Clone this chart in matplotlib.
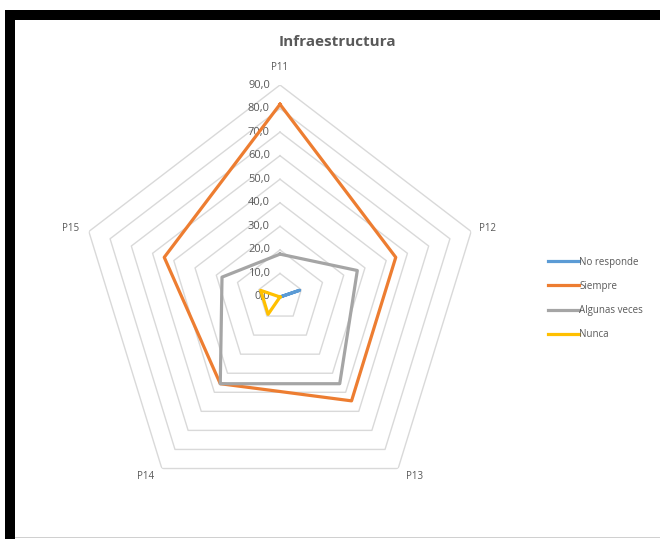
import numpy as np
import matplotlib
matplotlib.use("Agg")
import matplotlib.pyplot as plt
from matplotlib.patches import Rectangle

# datos (porcentajes por pregunta)
preguntas = ["P11", "P12", "P13", "P14", "P15"]
no_responde = [0.0, 9.1, 0.0, 0.0, 0.0]
siempre = [81.8, 54.5, 54.5, 45.5, 54.5]
algunas_veces = [18.2, 36.4, 45.5, 45.5, 27.3]
nunca = [0.0, 0.0, 0.0, 9.1, 9.1]
niveles = [0, 10, 20, 30, 40, 50, 60, 70, 80, 90]

series = [("No responde", no_responde, "#5B9BD5"),
          ("Siempre", siempre, "#ED7D31"),
          ("Algunas veces", algunas_veces, "#A5A5A5"),
          ("Nunca", nunca, "#FFC000")]

plt.rcParams["font.family"] = ["Open Sans", "DejaVu Sans"]
gris = "#595959"

fig = plt.figure(figsize=(6.6, 5.39), dpi=100)

# marco negro de la captura
fig.add_artist(Rectangle((5/660, 0), 10/660, 1 - 10/539, transform=fig.transFigure,
                         color="black", lw=0))
fig.add_artist(Rectangle((5/660, 1 - 20/539), 1, 10/539, transform=fig.transFigure,
                         color="black", lw=0))
fig.add_artist(Rectangle((15/660, 1/539), 1, 1.5/539, transform=fig.transFigure,
                         color="#D0D0D0", lw=0))

ax = fig.add_axes([79/660, 30/539, 402/660, 424/539], projection="polar")
ax.set_aspect("auto")
ax.set_theta_offset(np.pi/2)
ax.set_theta_direction(-1)

n = len(preguntas)
ang = np.linspace(0, 2*np.pi, n, endpoint=False)
ang_c = np.append(ang, ang[0])

# rejilla pentagonal
for lv in niveles[1:]:
    ax.plot(ang_c, [lv]*(n+1), color="#D9D9D9", lw=1, zorder=1)
for lv in niveles:
    ax.annotate(("%.1f" % lv).replace(".", ","), xy=(0, lv), xytext=(-10, 0),
                textcoords="offset pixels", ha="right", va="center",
                fontsize=8, color=gris)

for nombre, vals, col in series:
    ax.plot(ang_c, vals + vals[:1], color=col, lw=2.3, label=nombre, zorder=3)

desp = [(0, 18), (16, 3), (16, -8), (-16, -8), (-18, 3)]
for a, p, d in zip(ang, preguntas, desp):
    ax.annotate(p, xy=(a, niveles[-1]), xytext=d, textcoords="offset pixels",
                ha="center", va="center", fontsize=7, color=gris)

ax.set_ylim(0, 90)
ax.grid(False)
ax.spines["polar"].set_visible(False)
ax.set_xticks([])
ax.set_yticks([])
ax.patch.set_alpha(0)

fig.text(337/660, 1 - 42/539, "Infraestructura", ha="center", va="center",
         fontsize=11, fontweight="bold", color=gris)

fig.legend(loc="upper left", bbox_to_anchor=(539/660, 1 - 248/539), frameon=False,
           fontsize=7, handlelength=3.2, handletextpad=0.05, labelspacing=1.35,
           labelcolor=gris)

fig.savefig("out.png", dpi=100)
